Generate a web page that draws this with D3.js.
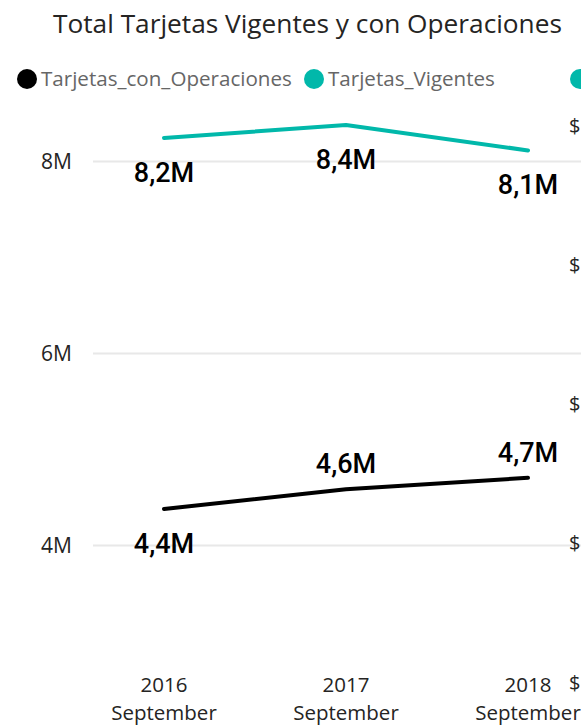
<!DOCTYPE html>
<html>
<head>
<meta charset="utf-8">
<script src="https://cdn.jsdelivr.net/npm/d3@7"></script>
<style>
  html, body { margin: 0; padding: 0; background: #fff; overflow: hidden; }
  svg { display: block; }
  .txt { font-family: "Open Sans", "Noto Sans", sans-serif; }
  .lbl { font-family: Roboto, "DejaVu Sans Condensed", sans-serif; font-weight: 500; }
</style>
</head>
<body>
<svg id="chart" width="581" height="727"></svg>
<script>
// data
const periods = ['2016 September', '2017 September', '2018 September'];
const tarjetasConOperaciones = [4.375e6, 4.58e6, 4.70e6];
const tarjetasVigentes = [8.24e6, 8.375e6, 8.11e6];
const seriesNames = ['Tarjetas_con_Operaciones', 'Tarjetas_Vigentes'];
const yTicks = [4e6, 6e6, 8e6];

const width = 581, height = 727;
const svg = d3.select('#chart');

const colors = { Tarjetas_con_Operaciones: '#000000', Tarjetas_Vigentes: '#01b8aa' };

// shrink/grow font so a text fills a given width
function fitWidth(sel, target) {
  const node = sel.node();
  const size = parseFloat(sel.attr('font-size'));
  const w = node.getComputedTextLength();
  sel.attr('font-size', (size * target / w).toFixed(2));
}

// title
const title = svg.append('text')
    .attr('class', 'txt')
    .attr('x', 53).attr('y', 33)
    .attr('font-size', 24)
    .attr('fill', '#252423')
    .text('Total Tarjetas Vigentes y con Operaciones');
fitWidth(title, 509);

// legend
const legendX = [27, 314];
const legend = svg.append('g').attr('class', 'legend');
seriesNames.forEach((name, i) => {
  legend.append('circle')
      .attr('cx', legendX[i]).attr('cy', 79).attr('r', 10)
      .attr('fill', colors[name]);
  const t = legend.append('text')
      .attr('class', 'txt')
      .attr('x', legendX[i] + 14).attr('y', 86)
      .attr('font-size', 19)
      .attr('fill', '#666666')
      .text(name);
  fitWidth(t, i === 0 ? 251 : 167);
});
// third legend entry, cut off by the visual edge
legend.append('circle')
    .attr('cx', 580).attr('cy', 79).attr('r', 10)
    .attr('fill', '#01b8aa');

// scales
const x = d3.scalePoint().domain(periods).range([164, 528]);
const y = d3.scaleLinear().domain([3e6, 8.5e6]).range([641, 113]);

// y axis + gridlines
const yAxis = svg.append('g')
    .attr('transform', 'translate(93,0)')
    .call(d3.axisLeft(y)
      .tickValues(yTicks)
      .tickSize(-(width - 93))
      .tickPadding(21)
      .tickFormat(d => d3.format('d')(d / 1e6) + 'M'));
yAxis.select('.domain').remove();
yAxis.selectAll('.tick line').attr('stroke', '#e8e8e8').attr('stroke-width', 2);
yAxis.selectAll('.tick text')
    .attr('class', 'txt')
    .attr('font-size', 21)
    .attr('fill', '#252423')
    .attr('dy', '0.36em');

// secondary axis, only its first glyph shows inside the visual
const y2 = d3.scaleLinear().domain([0, 4]).range([682, 125]);
const y2Axis = svg.append('g')
    .attr('transform', 'translate(569,0)')
    .call(d3.axisRight(y2).ticks(4).tickSize(0).tickPadding(0).tickFormat(() => '$'));
y2Axis.select('.domain').remove();
y2Axis.selectAll('.tick text')
    .attr('class', 'txt')
    .attr('font-size', 20)
    .attr('fill', '#252423')
    .attr('dy', '0.36em');

// x axis labels (two lines)
const xAxis = svg.append('g').attr('class', 'x-axis');
periods.forEach(p => {
  const parts = p.split(' ');
  const t = xAxis.append('text')
      .attr('class', 'txt')
      .attr('text-anchor', 'middle')
      .attr('font-size', 20.5)
      .attr('fill', '#252423');
  t.append('tspan').attr('x', x(p)).attr('y', 692).text(parts[0]);
  t.append('tspan').attr('x', x(p)).attr('y', 720).text(parts[1]);
});

// lines
const line = d3.line().x(d => x(d.period)).y(d => y(d.value));
const series = [
  { name: 'Tarjetas_Vigentes', values: tarjetasVigentes, sides: ['below', 'below', 'below'] },
  { name: 'Tarjetas_con_Operaciones', values: tarjetasConOperaciones, sides: ['below', 'above', 'above'] }
];
const fmt = v => d3.format('.1f')(v / 1e6).replace('.', ',') + 'M';

series.forEach(s => {
  const pts = s.values.map((v, i) => ({ period: periods[i], value: v, side: s.sides[i] }));
  svg.append('path')
      .datum(pts)
      .attr('fill', 'none')
      .attr('stroke', colors[s.name])
      .attr('stroke-width', 4)
      .attr('stroke-linecap', 'round')
      .attr('stroke-linejoin', 'round')
      .attr('d', line);
  svg.append('g').selectAll('text')
      .data(pts)
      .join('text')
      .attr('class', 'lbl')
      .attr('text-anchor', 'middle')
      .attr('font-size', 27)
      .attr('fill', '#000')
      .attr('x', d => x(d.period))
      .attr('y', d => y(d.value) + (d.side === 'below' ? 44 : -16))
      .text(d => fmt(d.value));
});
</script>
</body>
</html>
